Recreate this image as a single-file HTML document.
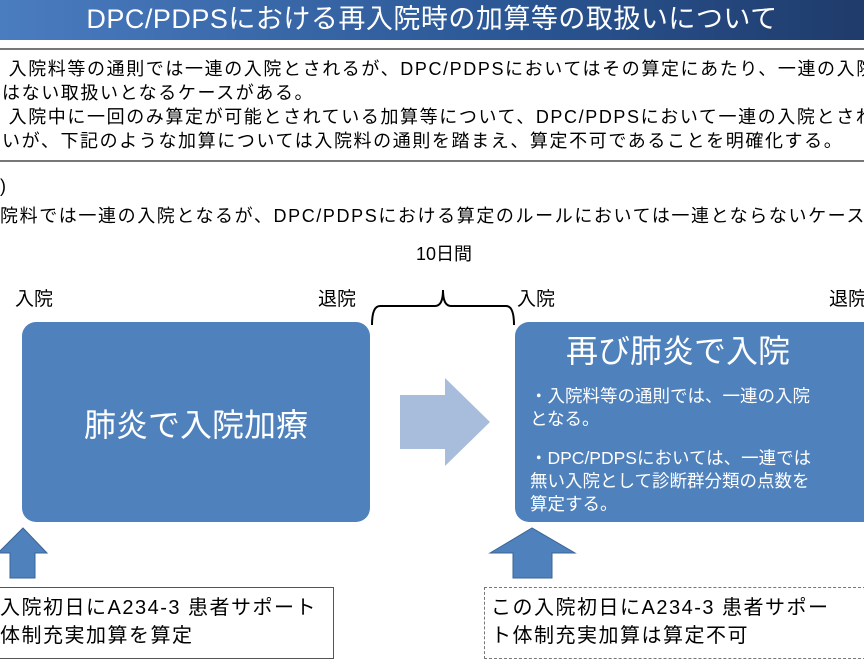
<!DOCTYPE html><html><head><meta charset="utf-8"><style>
body{margin:0;width:864px;height:648px;overflow:hidden;background:#fff;font-family:"Liberation Sans","Noto Sans CJK JP",sans-serif;position:relative}
.a{position:absolute;white-space:nowrap}
.t{font-size:18px;letter-spacing:1.6px}
</style></head><body>
<div class="a" style="left:0;top:0;width:864px;height:40px;background:linear-gradient(90deg,#4a7cc0,#2a5694 60%,#1f3b6b);"></div>
<div class="a" style="left:0;top:1px;width:864px;text-align:center;color:#fff;font-size:27px;line-height:36px;letter-spacing:0.5px">DPC/PDPSにおける再入院時の加算等の取扱いについて</div>
<div class="a" style="left:0;top:48px;width:864px;height:110px;border-top:2px solid #777;border-bottom:2px solid #777"></div>
<div class="a t" style="left:2px;top:57px;line-height:24px;color:#000">
&nbsp;入院料等の通則では一連の入院とされるが、DPC/PDPSにおいてはその算定にあたり、一連の入院<br>
はない取扱いとなるケースがある。<br>
&nbsp;入院中に一回のみ算定が可能とされている加算等について、DPC/PDPSにおいて一連の入院とされ<br>
いが、下記のような加算については入院料の通則を踏まえ、算定不可であることを明確化する。</div>
<div class="a t" style="left:0;top:176px">)</div>
<div class="a t" style="left:0;top:202px">院料では一連の入院となるが、DPC/PDPSにおける算定のルールにおいては一連とならないケース</div>
<div class="a" style="left:416px;top:240px;font-size:18px">10日間</div>
<div class="a" style="left:15px;top:284px;font-size:19px">入院</div>
<div class="a" style="left:318px;top:284px;font-size:19px">退院</div>
<div class="a" style="left:517px;top:284px;font-size:19px">入院</div>
<div class="a" style="left:829px;top:284px;font-size:19px">退院</div>
<svg class="a" style="left:0;top:0" width="864" height="648">
<path d="M372 325 Q372 306 380 306 L435 306 Q443 306 443 290 Q443 306 451 306 L506 306 Q514 306 514 325" fill="none" stroke="#000" stroke-width="2"/>
<rect x="22" y="322" width="348" height="200" rx="14" fill="#4f81bd"/>
<rect x="515" y="322" width="370" height="200" rx="14" fill="#4f81bd"/>
<polygon points="400,395 445,395 445,378 490,422 445,466 445,449 400,449" fill="#a8bcdc"/>
<polygon points="-2,553 23,528 47,553 35,553 35,578 10,578 10,553" fill="#4f81bd" stroke="#3a6496"/>
<polygon points="490,553 532,528 575,553 552,553 552,578 513,578 513,553" fill="#4f81bd" stroke="#3a6496"/>
</svg>
<div class="a" style="left:22px;top:400px;width:348px;text-align:center;color:#fff;font-size:32px">肺炎で入院加療</div>
<div class="a" style="left:566px;top:326px;color:#fff;font-size:32px">再び肺炎で入院</div>
<div class="a" style="left:530px;top:385px;color:#fff;font-size:17.5px;line-height:23px">・入院料等の通則では、一連の入院<br>となる。</div>
<div class="a" style="left:530px;top:447px;color:#fff;font-size:17.5px;line-height:23px">・DPC/PDPSにおいては、一連では<br>無い入院として診断群分類の点数を<br>算定する。</div>
<div class="a" style="left:-1px;top:587px;width:333px;height:70px;border:1px solid #555"></div>
<div class="a" style="left:0;top:594px;font-size:20px;line-height:28px;letter-spacing:1.5px">入院初日にA234-3 患者サポート<br>体制充実加算を算定</div>
<div class="a" style="left:484px;top:587px;width:390px;height:70px;border:1px dashed #777"></div>
<div class="a" style="left:491px;top:594px;font-size:20px;line-height:28px;letter-spacing:1.5px">この入院初日にA234-3 患者サポー<br>ト体制充実加算は算定不可</div>
</body></html>
